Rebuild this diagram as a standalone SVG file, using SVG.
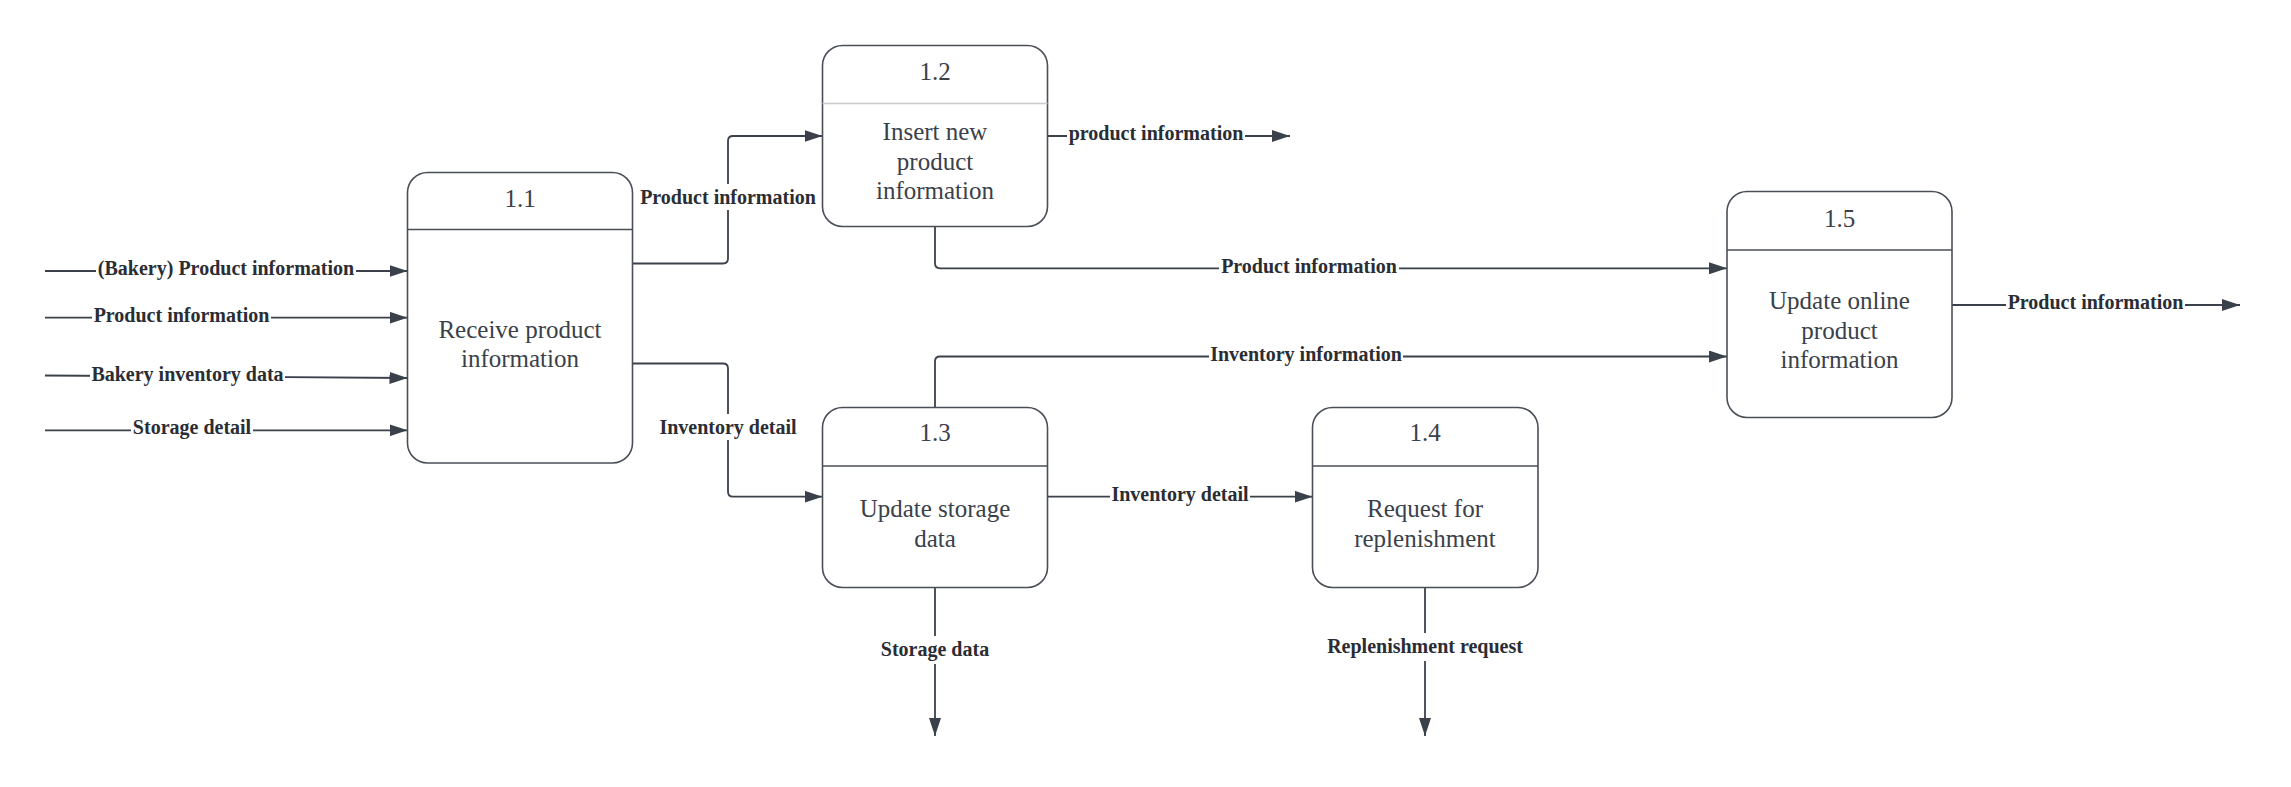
<svg xmlns="http://www.w3.org/2000/svg" width="2291" height="787" viewBox="0 0 2291 787">
<style>
.node{fill:#ffffff;stroke:#4a4f57;stroke-width:1.6}
.div{stroke:#4a4f57;stroke-width:1.6}
.div.light{stroke:#c9cbcf}
.nt{font-family:"Liberation Serif",serif;font-size:25px;fill:#3a414a;text-anchor:middle}
.conn path{fill:none;stroke:#3a414a;stroke-width:1.8;marker-end:url(#arr)}
.lbl text{font-family:"Liberation Serif",serif;font-weight:bold;font-size:20px;fill:#2a2d33;text-anchor:middle}
.lbl rect{fill:#ffffff}
</style>
<defs>
<marker id="arr" markerUnits="userSpaceOnUse" markerWidth="18" markerHeight="12" refX="18" refY="6" orient="auto">
<path d="M0,0 L18,6 L0,12 z" fill="#3a414a"/>
</marker>
</defs>
<rect width="2291" height="787" fill="#ffffff"/>
<g id="connectors" class="conn">
<path d="M45,271 H407.5"/>
<path d="M45,317.7 H407.5"/>
<path d="M45,375.5 L407.5,378"/>
<path d="M45,430.3 H407.5"/>
<path d="M632.5,263.5 H723 Q728,263.5 728,258.5 V141 Q728,136 733,136 H822.5"/>
<path d="M1047.5,136 H1290"/>
<path d="M935,226.5 V263.3 Q935,268.3 940,268.3 H1727"/>
<path d="M632.5,363.5 H723 Q728,363.5 728,368.5 V491.7 Q728,496.7 733,496.7 H822.5"/>
<path d="M935,407.5 V361.5 Q935,356.5 940,356.5 H1727"/>
<path d="M1047.5,496.7 H1312.5"/>
<path d="M935,587.5 V736"/>
<path d="M1425,587.5 V736"/>
<path d="M1952,305 H2240"/>
</g>
<g id="labels" class="lbl">
<rect x="96" y="257" width="260" height="24"/><text x="226" y="275">(Bakery) Product information</text>
<rect x="92" y="303.7" width="179" height="24"/><text x="181.5" y="321.7">Product information</text>
<rect x="90" y="362" width="195" height="24"/><text x="187.5" y="380.5">Bakery inventory data</text>
<rect x="131" y="416.3" width="122" height="24"/><text x="192" y="434.3">Storage detail</text>
<rect x="638" y="184" width="180" height="26"/><text x="728" y="204">Product information</text>
<rect x="1067" y="122" width="178" height="24"/><text x="1156" y="140">product information</text>
<rect x="1219" y="254.5" width="180" height="24"/><text x="1309" y="272.5">Product information</text>
<rect x="658" y="414" width="140" height="26"/><text x="728" y="434">Inventory detail</text>
<rect x="1209" y="342.5" width="194" height="24"/><text x="1306" y="360.5">Inventory information</text>
<rect x="1110" y="482.7" width="140" height="24"/><text x="1180" y="500.7">Inventory detail</text>
<rect x="880" y="636" width="110" height="28"/><text x="935" y="656">Storage data</text>
<rect x="1326" y="633" width="198" height="28"/><text x="1425" y="653">Replenishment request</text>
<rect x="2006" y="290.5" width="179" height="24"/><text x="2095.5" y="308.5">Product information</text>
</g>
<g id="node-1-1">
<rect class="node" x="407.5" y="172.5" width="225" height="290.5" rx="20"/>
<line class="div" x1="407.5" y1="229.5" x2="632.5" y2="229.5"/>
<text class="nt" x="520" y="206.7">1.1</text>
<text class="nt" x="520" y="337.7">Receive product</text>
<text class="nt" x="520" y="366.7">information</text>
</g>
<g id="node-1-2">
<rect class="node" x="822.5" y="45.5" width="225" height="181" rx="20"/>
<line class="div light" x1="822.5" y1="103.5" x2="1047.5" y2="103.5"/>
<text class="nt" x="935" y="80">1.2</text>
<text class="nt" x="935" y="140">Insert new</text>
<text class="nt" x="935" y="169.5">product</text>
<text class="nt" x="935" y="199">information</text>
</g>
<g id="node-1-3">
<rect class="node" x="822.5" y="407.5" width="225" height="180" rx="20"/>
<line class="div" x1="822.5" y1="466" x2="1047.5" y2="466"/>
<text class="nt" x="935" y="441">1.3</text>
<text class="nt" x="935" y="517.3">Update storage</text>
<text class="nt" x="935" y="546.7">data</text>
</g>
<g id="node-1-4">
<rect class="node" x="1312.5" y="407.5" width="225.5" height="180" rx="20"/>
<line class="div" x1="1312.5" y1="466" x2="1538" y2="466"/>
<text class="nt" x="1425" y="441">1.4</text>
<text class="nt" x="1425" y="517.3">Request for</text>
<text class="nt" x="1425" y="546.7">replenishment</text>
</g>
<g id="node-1-5">
<rect class="node" x="1727" y="191.5" width="225" height="226" rx="20"/>
<line class="div" x1="1727" y1="250" x2="1952" y2="250"/>
<text class="nt" x="1839.5" y="226.7">1.5</text>
<text class="nt" x="1839.5" y="309.3">Update online</text>
<text class="nt" x="1839.5" y="338.8">product</text>
<text class="nt" x="1839.5" y="368.3">information</text>
</g>
</svg>
